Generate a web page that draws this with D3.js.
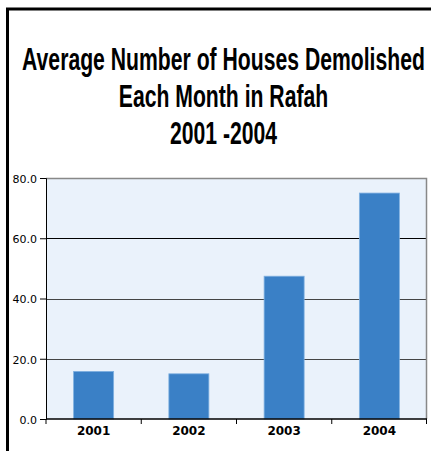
<!DOCTYPE html>
<html>
<head>
<meta charset="utf-8">
<script src="https://cdn.jsdelivr.net/npm/d3@7"></script>
<style>
  body { margin: 0; background: #fff; }
  svg { display: block; }
</style>
</head>
<body>
<div class="chart"></div>
<script>
var svgWidth = 431;
var svgHeight = 451;

// chart data
var years = ["2001", "2002", "2003", "2004"];
var housesPerMonth = [15.8, 15.0, 47.4, 75.0];
var yTicks = [0, 20, 40, 60, 80];
var titleLines = ["Average Number of Houses Demolished", "Each Month in Rafah", "2001 -2004"];

var margin = { top: 178, right: 4, bottom: 32, left: 46 };
var width = svgWidth - margin.left - margin.right;
var height = svgHeight - margin.top - margin.bottom;

var svg = d3.select(".chart")
  .append("svg")
  .attr("width", svgWidth)
  .attr("height", svgHeight);

// outer frame (left + top edges)
svg.append("path")
  .attr("d", "M7.5,451 V9 H431")
  .attr("fill", "none")
  .attr("stroke", "#000")
  .attr("stroke-width", 3);

// title - no narrow font installed, so squeeze a bold sans horizontally
var titleTexts = svg.append("g").selectAll("text")
  .data(titleLines)
  .enter()
  .append("text")
  .attr("text-anchor", "middle")
  .attr("font-family", "'Liberation Sans', Arial, sans-serif")
  .attr("font-weight", "bold")
  .attr("font-size", "32px")
  .attr("fill", "#000")
  .text(d => d);
var squeeze = 403 / titleTexts.node().getComputedTextLength();
titleTexts.attr("transform", (d, i) => `translate(223.5, ${69.5 + i * 37}) scale(${squeeze}, 1)`);

var chartGroup = svg.append("g")
  .attr("transform", `translate(${margin.left}, ${margin.top})`);

var xScale = d3.scaleBand()
  .domain(years)
  .range([0, width])
  .paddingInner(0.58)
  .paddingOuter(0.29);

var yScale = d3.scaleLinear()
  .domain([0, 80])
  .range([height, 0]);

// plot background
chartGroup.append("rect")
  .attr("width", width)
  .attr("height", height)
  .attr("fill", "#eaf2fb");

// gridlines
chartGroup.selectAll(".grid")
  .data(yTicks.filter(d => d > 0 && d < 80))
  .enter()
  .append("line")
  .attr("class", "grid")
  .attr("x1", 0)
  .attr("x2", width)
  .attr("y1", d => Math.round(yScale(d)) + 0.5)
  .attr("y2", d => Math.round(yScale(d)) + 0.5)
  .attr("stroke", d => d === 60 ? "#000" : "#444")
  .attr("stroke-width", 1);

// top and right border of plot
chartGroup.append("path")
  .attr("d", `M0,0.5 H${width - 0.5} V${height}`)
  .attr("fill", "none")
  .attr("stroke", "#888")
  .attr("stroke-width", 1.5);

// bars
chartGroup.selectAll(".bar")
  .data(housesPerMonth)
  .enter()
  .append("rect")
  .attr("class", "bar")
  .attr("x", (d, i) => xScale(years[i]))
  .attr("y", d => yScale(d))
  .attr("width", xScale.bandwidth())
  .attr("height", d => height - yScale(d))
  .attr("fill", "#3a80c6")
  .attr("stroke", "#7fb0e0")
  .attr("stroke-width", 0.8);

// y axis
var leftAxis = d3.axisLeft(yScale)
  .tickValues(yTicks)
  .tickSize(6)
  .tickFormat(d3.format(".1f"));
var yAxis = chartGroup.append("g")
  .call(leftAxis);
yAxis.select(".domain").attr("stroke", "#000");
yAxis.selectAll("text")
  .attr("font-family", "'DejaVu Sans', sans-serif")
  .attr("font-size", "11px")
  .attr("fill", "#000")
  .attr("x", -9)
  .attr("dy", "0.4em");

// x axis with ticks between categories
var xAxisGroup = chartGroup.append("g")
  .attr("transform", `translate(0, ${height})`);
xAxisGroup.append("line")
  .attr("x1", 0)
  .attr("x2", width)
  .attr("stroke", "#000")
  .attr("stroke-width", 1.5);
xAxisGroup.selectAll(".sep")
  .data(d3.range(years.length + 1))
  .enter()
  .append("line")
  .attr("class", "sep")
  .attr("x1", d => Math.min(d * width / years.length, width - 0.5))
  .attr("x2", d => Math.min(d * width / years.length, width - 0.5))
  .attr("y1", 0)
  .attr("y2", 5)
  .attr("stroke", "#000");
xAxisGroup.selectAll(".xlabel")
  .data(years)
  .enter()
  .append("text")
  .attr("class", "xlabel")
  .attr("x", d => xScale(d) + xScale.bandwidth() / 2)
  .attr("y", 16)
  .attr("text-anchor", "middle")
  .attr("font-family", "'DejaVu Sans', sans-serif")
  .attr("font-weight", "bold")
  .attr("font-size", "12px")
  .attr("fill", "#000")
  .text(d => d);
</script>
</body>
</html>
